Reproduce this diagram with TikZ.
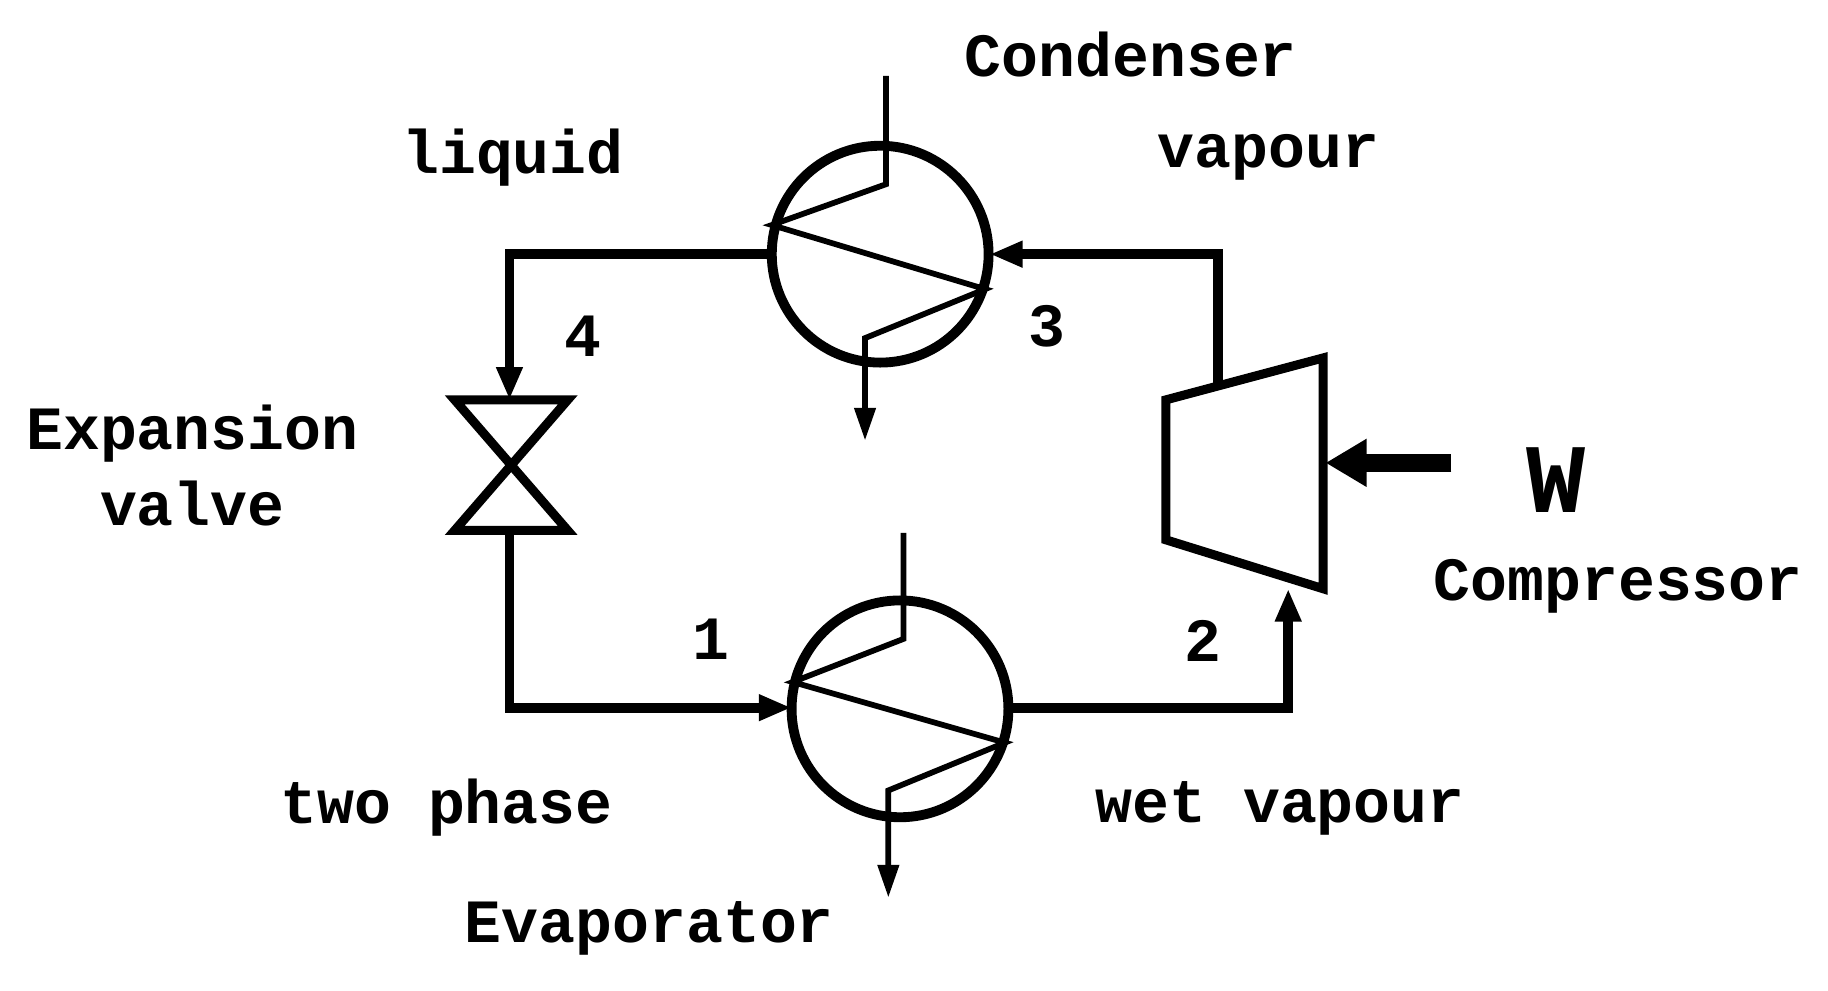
\documentclass[tikz,border=0pt]{standalone}
\usepackage{fontspec}
\setmainfont{Liberation Mono}
\usetikzlibrary{arrows.meta}
\begin{document}
\begin{tikzpicture}[x=0.01cm,y=-0.01cm,
  pipe/.style={line width=2.4pt,-{Triangle[length=8pt,width=6pt]}},
  thin/.style={line width=1.4pt},
  lbl/.style={font=\bfseries\fontsize{15}{17}\selectfont}]
\useasboundingbox (0,0) rectangle (1568,850);
% condenser
\node[inner sep=0] (cond) at (755,218) {};
\draw[line width=2.4pt] (cond.center) circle (93);
\coordinate (ci) at (760,65);
\coordinate (co) at (742,378);
\draw[thin,-{Triangle[length=8pt,width=5pt]}] (ci) -- (760,158) -- (662,193) -- (845,248) -- (742,290) -- (co);
% evaporator
\node[inner sep=0] (evap) at (772,608) {};
\draw[line width=2.4pt] (evap.center) circle (93);
\coordinate (ei) at (775,457);
\coordinate (eo) at (762,770);
\draw[thin,-{Triangle[length=8pt,width=5pt]}] (ei) -- (775,548) -- (680,585) -- (862,637) -- (762,678) -- (eo);
% valve
\coordinate (vt) at (437,343);
\coordinate (vb) at (437,455);
\draw[line width=2.2pt] (390,343) -- (487,343) -- (390,455) -- (487,455) -- cycle;
% compressor
\coordinate (cb) at (1105,505);
\coordinate (ct) at (1045,330);
\draw[line width=2.2pt] (1000,343) -- (1135,307) -- (1135,505) -- (1000,463) -- cycle;
% pipes
\draw[pipe] (662,218) -- (437,218) -- (vt);
\draw[pipe] (vb) -- (437,607) -- (679,607);
\draw[pipe] (865,607) -- (1105,607) -- (cb);
\draw[pipe] (ct) -- (1045,218) -- (849,218);
\coordinate (w1) at (1245,397);
\coordinate (w2) at (1137,397);
\draw[line width=4.5pt,-{Triangle[length=10pt,width=11pt]}] (w1) -- (w2);
% labels
\node[lbl] (l1) at (970,47) {Condenser};
\node[lbl] (l2) at (440,135) {liquid};
\node[lbl] (l3) at (1088,135) {vapour};
\node[lbl] (l4) at (500,288) {4};
\node[lbl] (l5) at (898,280) {3};
\node[lbl] (l6) at (165,372) {Expansion};
\node[lbl] (l7) at (165,432) {valve};
\node[font=\bfseries\fontsize{24}{26}\selectfont] (l8) at (1335,412) {W};
\node[lbl] (l9) at (1388,503) {Compressor};
\node[lbl] (l10) at (610,548) {1};
\node[lbl] (l11) at (1032,550) {2};
\node[lbl] (l12) at (383,693) {two phase};
\node[lbl] (l13) at (1098,693) {wet vapour};
\node[lbl] (l14) at (557,796) {Evaporator};
\end{tikzpicture}
\end{document}
